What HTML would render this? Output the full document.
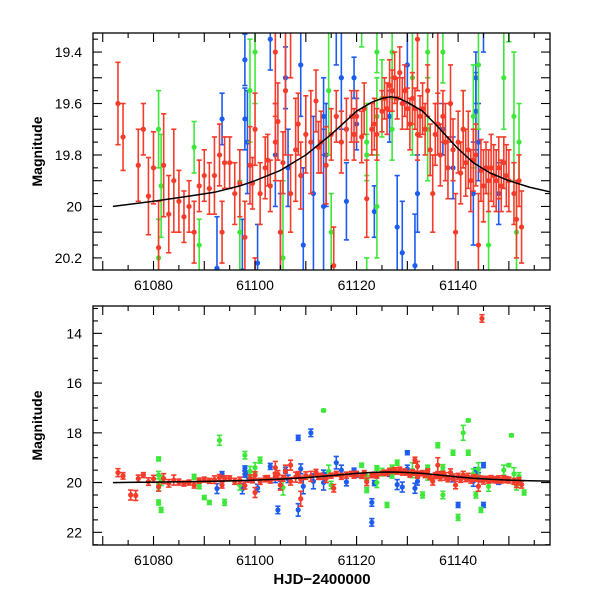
<!DOCTYPE html>
<html><head><meta charset="utf-8"><style>
html,body{margin:0;padding:0;background:#fff;width:600px;height:600px;overflow:hidden}
svg{display:block;font-family:"Liberation Sans",sans-serif}
</style></head><body>
<svg id="chart" width="600" height="600" viewBox="0 0 600 600" xmlns="http://www.w3.org/2000/svg"></svg>
<script>
// ---- data ----
const modelDays = [61072,61080,61087,61092,61097,61100,61105,61110,61115,61120,61123,61125,61126.6,61128,61130,61133,61136,61139.7,61143,61146.3,61150,61154,61158.5];
const modelMags = [20.0,19.98,19.96,19.945,19.92,19.9,19.86,19.80,19.72,19.63,19.595,19.58,19.574,19.578,19.595,19.63,19.69,19.77,19.83,19.87,19.90,19.925,19.945];

const redDays = [61073,61074,61075.5,61076.5,61077,61078,61079,61080,61081,61082,61083,61084,61085,61086,61087,61088,61089,61090,61091,61092,61093,61093.5,61094,61095,61096,61097,61098,61099,61099.5,61100,61100,61101,61102,61102.5,61103,61104,61104,61104.5,61105,61105.5,61106,61107,61107,61108,61108.5,61109,61109,61110,61111,61112,61112.5,61113,61114,61115,61115.5,61116,61117,61118,61119,61119.5,61120,61121,61121.5,61122,61123,61123.5,61124,61125,61125.5,61126,61126.5,61127,61127.5,61128,61128.5,61129,61129.5,61130,61130.5,61131,61131.5,61131.5,61132,61132,61132.5,61133,61133.5,61134,61134.5,61135,61135.5,61136,61136,61136.5,61137,61137.5,61138,61138.5,61139,61139.5,61140,61140.5,61141,61141.5,61142,61142.5,61143,61143.5,61144,61144.5,61144.7,61145,61145.5,61146,61146.5,61147,61147.5,61148,61148.5,61149,61149.5,61150,61151,61151.5,61152,61152.5];
const redMags = [19.60,19.73,20.50,20.52,19.84,19.70,19.96,19.85,20.16,19.84,20.03,19.90,19.98,20.04,20.0,20.1,19.92,19.88,19.93,19.88,19.80,20.1,19.83,19.83,19.95,19.91,20.12,19.84,19.91,19.70,20.40,19.95,19.85,19.82,19.92,19.75,19.40,19.67,20.1,19.83,19.55,19.95,19.30,19.78,19.68,19.88,20.65,19.72,19.75,19.59,19.77,19.75,19.84,19.72,20.23,19.65,19.75,19.70,19.65,19.72,19.65,19.73,19.62,19.97,19.70,19.68,19.72,19.63,19.58,19.62,19.53,19.55,19.50,19.58,19.48,19.60,19.55,19.62,19.68,19.58,19.62,19.10,19.72,19.35,19.65,19.62,19.70,19.55,19.78,19.95,19.72,19.68,19.30,19.80,19.65,19.75,19.85,19.60,19.78,20.1,19.75,19.87,19.70,19.83,19.78,19.90,19.82,19.80,20.15,19.86,13.40,19.92,19.85,19.90,19.85,19.88,19.90,19.85,19.92,19.83,19.88,19.90,19.95,20.05,19.90,20.08];
const redErrs = [0.16,0.13,0.2,0.2,0.14,0.1,0.15,0.14,0.18,0.2,0.15,0.2,0.12,0.1,0.1,0.12,0.1,0.1,0.1,0.15,0.12,0.12,0.1,0.1,0.12,0.13,0.14,0.15,0.1,0.14,0.2,0.12,0.12,0.1,0.1,0.15,0.25,0.15,0.2,0.12,0.25,0.15,0.2,0.2,0.12,0.13,0.3,0.15,0.2,0.12,0.1,0.12,0.15,0.1,0.15,0.1,0.12,0.12,0.1,0.1,0.1,0.1,0.1,0.15,0.1,0.1,0.1,0.08,0.08,0.1,0.1,0.08,0.1,0.08,0.1,0.1,0.1,0.08,0.1,0.1,0.08,0.12,0.1,0.2,0.08,0.1,0.1,0.1,0.1,0.15,0.12,0.12,0.3,0.12,0.1,0.15,0.12,0.15,0.12,0.15,0.12,0.12,0.15,0.13,0.15,0.12,0.12,0.12,0.2,0.12,0.15,0.14,0.1,0.12,0.13,0.12,0.12,0.12,0.1,0.1,0.12,0.12,0.12,0.15,0.1,0.14];

const blueDays = [61092.5,61093.5,61097.5,61098,61098,61098.5,61100.5,61103,61104,61105,61106.5,61106,61109,61109.5,61111.5,61113.5,61113.5,61114,61117,61118,61120,61123.5,61126.5,61128,61129,61130,61131.5,61132,61137,61139,61143,61143.5,61143.5,61144,61148,61108.5,61111,61108.5,61104.5,61123,61123,61116,61119.5,61130,61145,61145,61140];
const blueMags = [20.24,19.66,20.25,19.43,19.66,19.75,20.22,19.35,19.8,20.1,19.85,19.5,19.45,20.15,19.95,20.0,19.65,19.8,19.5,19.98,19.68,20.02,19.65,20.08,20.18,19.45,20.23,19.95,19.7,19.85,19.95,19.5,19.63,19.75,19.95,18.2,18.0,21.1,21.1,21.6,20.8,19.2,19.5,18.8,19.3,20.9,20.9];
const blueErrs = [0.2,0.1,0.2,0.1,0.12,0.2,0.15,0.12,0.2,0.15,0.15,0.12,0.2,0.3,0.3,0.3,0.15,0.2,0.2,0.15,0.1,0.1,0.1,0.2,0.2,0.15,0.2,0.15,0.1,0.12,0.2,0.1,0.15,0.15,0.12,0.1,0.15,0.25,0.15,0.15,0.15,0.25,0.08,0.08,0.1,0.1,0.1];

const greenDays = [61081,61081,61081.5,61081,61093,61094,61090,61091,61098,61101,61113.5,61121,61122,61124,61122,61126,61127,61128,61133,61134,61136,61137,61137,61139,61140,61141,61142,61142,61143.5,61144.5,61150.5,61150,61153,61081,61081.5,61088,61089,61097,61099,61100,61105.5,61114.5,61115,61122,61124,61125,61124,61127,61131,61134,61141,61143,61144,61146,61149,61151,61151.5,61152];
const greenMags = [19.05,20.8,21.1,20.2,18.3,20.8,20.6,20.8,18.9,19.1,17.1,19.3,19.8,19.4,20.3,20.9,19.4,19.2,20.5,19.4,18.5,19.4,20.5,18.8,21.4,18.0,17.5,18.8,20.5,21.1,18.1,19.3,20.4,19.7,19.92,19.77,20.15,20.1,19.55,19.4,20.2,19.55,20.1,19.75,19.65,19.58,20.0,19.7,19.5,19.7,19.7,19.65,19.45,20.15,19.5,19.65,20.1,19.75];
const greenErrs = [0.08,0.1,0.1,0.15,0.2,0.12,0.08,0.08,0.15,0.12,0.05,0.08,0.08,0.08,0.1,0.1,0.1,0.1,0.12,0.1,0.1,0.12,0.15,0.1,0.12,0.3,0.05,0.1,0.12,0.1,0.05,0.06,0.1,0.15,0.2,0.1,0.1,0.2,0.2,0.2,0.3,0.25,0.15,0.15,0.15,0.15,0.2,0.12,0.3,0.2,0.15,0.2,0.25,0.2,0.2,0.25,0.2,0.15];

const topYTicks = ["19.4","19.6","19.8","20","20.2"];
const botYTicks = ["14","16","18","20","22"];
const xTicks = ["61080","61100","61120","61140"];

// ---- layout ----
const NS = "http://www.w3.org/2000/svg";
const svg = document.getElementById("chart");
const X0 = 93, X1 = 550, D0 = 61068.08, D1 = 61158.1;
const xs = d => X0 + (d - D0) / (D1 - D0) * (X1 - X0);
const panels = [
  {name:"top", y0:33, y1:270, m0:19.326, m1:20.247, ticks:topYTicks, major:0.1, minor:0.05},
  {name:"bottom", y0:306, y1:545, m0:12.9, m1:22.51, ticks:botYTicks, major:2, minor:0.5}
];
const COLORS = {blue:"#1c5cf0", green:"#3de83a", red:"#f53b2a"};

function el(tag, attrs, parent){
  const e = document.createElementNS(NS, tag);
  for (const k in attrs) e.setAttribute(k, attrs[k]);
  (parent||svg).appendChild(e);
  return e;
}

const defs = el("defs", {});
panels.forEach(p => {
  const cp = el("clipPath", {id:"clip-"+p.name}, defs);
  el("rect", {x:X0, y:p.y0, width:X1-X0, height:p.y1-p.y0}, cp);
});

function drawSeries(g, p, days, mags, errs, color, nm){
  const ys = m => p.y0 + (m - p.m0) / (p.m1 - p.m0) * (p.y1 - p.y0);
  for (let i = 0; i < days.length; i++){
    const x = xs(days[i]), y = ys(mags[i]);
    const ya = ys(mags[i]-errs[i]), yb = ys(mags[i]+errs[i]);
    const pt = el("g", {}, g);
    
    
    el("line", {x1:x, x2:x, y1:ya, y2:yb, stroke:color, "stroke-width":1.6}, pt);
    el("line", {x1:x-2.6, x2:x+2.6, y1:ya, y2:ya, stroke:color, "stroke-width":1.6}, pt);
    el("line", {x1:x-2.6, x2:x+2.6, y1:yb, y2:yb, stroke:color, "stroke-width":1.6}, pt);
    el("circle", {cx:x, cy:y, r:2.6, fill:color}, pt);
  }
}

panels.forEach(p => {
  const ys = m => p.y0 + (m - p.m0) / (p.m1 - p.m0) * (p.y1 - p.y0);
  const g = el("g", {"clip-path":"url(#clip-"+p.name+")"});
  
  
  drawSeries(g, p, blueDays, blueMags, blueErrs, COLORS.blue, 'blue');
  drawSeries(g, p, greenDays, greenMags, greenErrs, COLORS.green, 'green');
  drawSeries(g, p, redDays, redMags, redErrs, COLORS.red, 'red');
  let d = "";
  modelDays.forEach((dd, i) => { d += (i ? "L" : "M") + xs(dd).toFixed(1) + "," + ys(modelMags[i]).toFixed(1); });
  const path = el("path", {d:d, fill:"none", stroke:"#000", "stroke-width":1.5, "stroke-linejoin":"round"}, g);
  
  

  const fr = el("rect", {x:X0, y:p.y0, width:X1-X0, height:p.y1-p.y0, fill:"none", stroke:"#000", "stroke-width":1.3});
  
  
  const tg = el("g", {stroke:"#000", "stroke-width":1.1});
  
  
  for (let dd = 61070; dd <= 61158; dd += 5){
    const x = xs(dd), L = (dd % 10 === 0) ? 9 : 5;
    el("line", {x1:x, x2:x, y1:p.y1, y2:p.y1-L}, tg);
    el("line", {x1:x, x2:x, y1:p.y0, y2:p.y0+L}, tg);
  }
  const nStart = Math.ceil(p.m0 / p.minor - 1e-6), nEnd = Math.floor(p.m1 / p.minor + 1e-6);
  for (let n = nStart; n <= nEnd; n++){
    const m = n * p.minor, y = ys(m);
    const isMaj = Math.abs(m/p.major - Math.round(m/p.major)) < 1e-6;
    const L = isMaj ? 9 : 5;
    el("line", {x1:X0, x2:X0+L, y1:y, y2:y}, tg);
    el("line", {x1:X1, x2:X1-L, y1:y, y2:y}, tg);
  }
  p.ticks.forEach(t => {
    const tx = el("text", {x:82, y:ys(parseFloat(t))+5, "text-anchor":"end", "font-size":14, fill:"#000"});
    tx.textContent = t;
    
    
  });
  xTicks.forEach(t => {
    const tx = el("text", {x:xs(parseFloat(t)), y:p.y1+20, "text-anchor":"middle", "font-size":14, fill:"#000"});
    tx.textContent = t;
    
    
  });
  const yl = el("text", {x:0, y:0, transform:"translate(42," + ((p.y0+p.y1)/2) + ") rotate(-90)", "text-anchor":"middle", "font-size":14, "font-weight":"bold", fill:"#000"});
  yl.textContent = "Magnitude";
  
  
});
const xl = el("text", {x:322, y:584, "text-anchor":"middle", "font-size":15, "font-weight":"bold", fill:"#000"});
xl.textContent = "HJD\u22122400000";


</script>
</body></html>
